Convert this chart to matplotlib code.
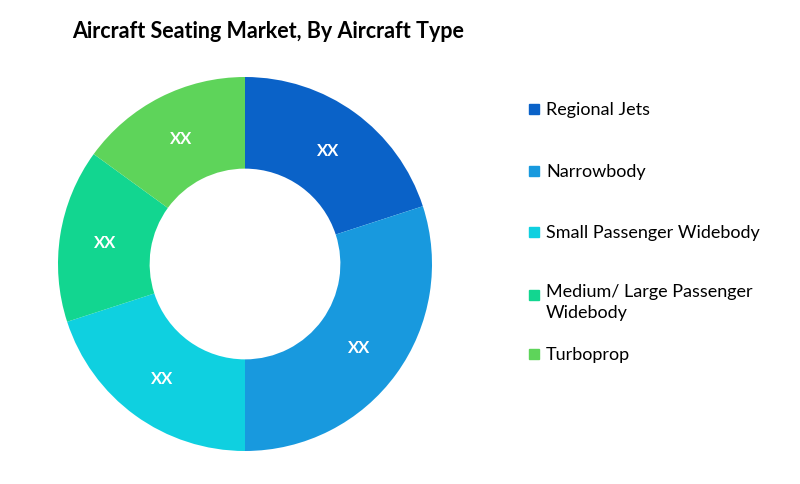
import matplotlib
matplotlib.use("Agg")
import matplotlib.pyplot as plt
from matplotlib.patches import Rectangle
import numpy as np

categories = ["Regional Jets", "Narrowbody", "Small Passenger Widebody",
              "Medium/ Large Passenger\nWidebody", "Turboprop"]
shares = [20, 30, 20, 15, 15]
labels = ["XX", "XX", "XX", "XX", "XX"]
colors = ["#0a62c8", "#1899de", "#0fd0e0", "#12d690", "#5ed45a"]

plt.rcParams["font.family"] = "Lato"
fig = plt.figure(figsize=(8, 4.85), dpi=100)
W, H = 800, 485
cx, cy, R = 245, 265, 187
ax = fig.add_axes([(cx - 190) / W, (H - cy - 190) / H, 380 / W, 380 / H])
wedges, _ = ax.pie(shares, colors=colors, startangle=90, counterclock=False,
                   radius=1, wedgeprops=dict(width=0.49, linewidth=0))
lim = 190 / R
ax.set_xlim(-lim, lim); ax.set_ylim(-lim, lim); ax.set_aspect("auto"); ax.axis("off")
for w, lab in zip(wedges, labels):
    a = np.deg2rad((w.theta1 + w.theta2) / 2)
    r = 0.755
    ax.text(r * np.cos(a), r * np.sin(a), lab, color="white", fontsize=12,
            fontweight="bold", ha="center", va="center")

fig.text(72 / W, 1 - 32 / H, "Aircraft Seating Market, By Aircraft Type",
         fontsize=15.5, fontweight="bold", ha="left", va="center")

ys = [110, 172, 233, 296, 355]
for y, c, name in zip(ys, colors, categories):
    fig.patches.append(Rectangle((529 / W, 1 - (y + 5) / H), 10 / W, 10 / H,
                                 transform=fig.transFigure, color=c))
    if "\n" in name:
        fig.text(546 / W, 1 - (y - 12) / H, name, fontsize=13, ha="left", va="top",
                 linespacing=1.35)
    else:
        fig.text(546 / W, 1 - y / H, name, fontsize=13, ha="left", va="center")
fig.savefig("out.png", dpi=100)
